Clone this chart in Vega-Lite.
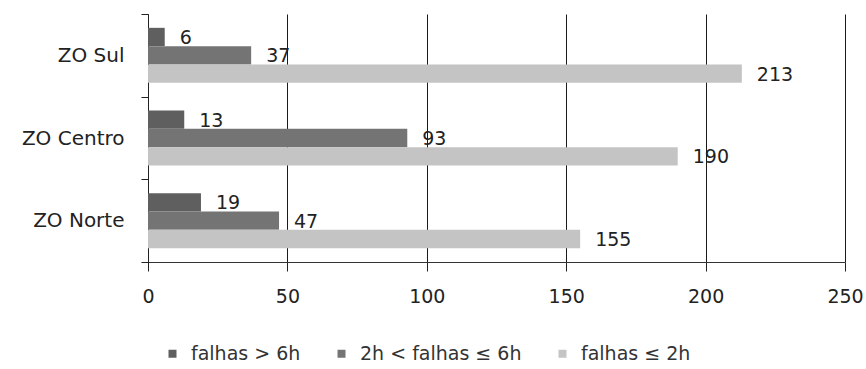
{
  "$schema": "https://vega.github.io/schema/vega-lite/v6.json",
  "autosize": "none",
  "width": 697,
  "height": 248,
  "padding": {"left": 148, "top": 14, "right": 21, "bottom": 107},
  "background": "white",
  "config": {
    "view": {"stroke": null},
    "font": "DejaVu Sans",
    "text": {"font": "DejaVu Sans"}
  },
  "data": {
    "values": [
      {"zona": "ZO Sul", "serie": "falhas > 6h", "valor": 6},
      {"zona": "ZO Sul", "serie": "2h < falhas ≤ 6h", "valor": 37},
      {"zona": "ZO Sul", "serie": "falhas ≤ 2h", "valor": 213},
      {"zona": "ZO Centro", "serie": "falhas > 6h", "valor": 13},
      {"zona": "ZO Centro", "serie": "2h < falhas ≤ 6h", "valor": 93},
      {"zona": "ZO Centro", "serie": "falhas ≤ 2h", "valor": 190},
      {"zona": "ZO Norte", "serie": "falhas > 6h", "valor": 19},
      {"zona": "ZO Norte", "serie": "2h < falhas ≤ 6h", "valor": 47},
      {"zona": "ZO Norte", "serie": "falhas ≤ 2h", "valor": 155}
    ]
  },
  "encoding": {
    "y": {
      "field": "zona",
      "type": "nominal",
      "sort": ["ZO Sul", "ZO Centro", "ZO Norte"],
      "scale": {"paddingInner": 0, "paddingOuter": 0},
      "axis": {
        "title": null,
        "tickBand": "extent",
        "tickSize": 7,
        "tickColor": "#222",
        "domainColor": "#222",
        "labelPadding": 17,
        "labelFontSize": 20,
        "labelColor": "#222",
        "labelFont": "DejaVu Sans",
        "grid": false
      }
    },
    "yOffset": {
      "field": "serie",
      "type": "nominal",
      "sort": ["falhas > 6h", "2h < falhas ≤ 6h", "falhas ≤ 2h"],
      "scale": {"paddingInner": 0, "paddingOuter": 0.755}
    },
    "x": {
      "field": "valor",
      "type": "quantitative",
      "scale": {"domain": [0, 250], "nice": false},
      "axis": {
        "title": null,
        "values": [0, 50, 100, 150, 200, 250],
        "grid": true,
        "gridColor": "#1a1a1a",
        "gridOpacity": 1,
        "gridWidth": 1,
        "tickSize": 9,
        "tickColor": "#222",
        "domainColor": "#333",
        "labelPadding": 16,
        "labelFlush": false,
        "labelFontSize": 19,
        "labelColor": "#222",
        "labelFont": "DejaVu Sans"
      }
    }
  },
  "layer": [
    {
      "mark": {"type": "bar"},
      "encoding": {
        "color": {
          "field": "serie",
          "type": "nominal",
          "sort": ["falhas > 6h", "2h < falhas ≤ 6h", "falhas ≤ 2h"],
          "scale": {
            "domain": ["falhas > 6h", "2h < falhas ≤ 6h", "falhas ≤ 2h"],
            "range": ["#5f5f5f", "#747474", "#c4c4c4"]
          },
          "legend": {
            "title": null,
            "orient": "none",
            "direction": "horizontal",
            "legendX": 15,
            "legendY": 330,
            "symbolType": "square",
            "symbolSize": 64,
            "symbolStrokeWidth": 0,
            "labelFontSize": 19,
            "labelLimit": 400,
            "labelColor": "#333",
            "labelFont": "DejaVu Sans",
            "labelOffset": 9,
            "columnPadding": 31
          }
        }
      }
    },
    {
      "mark": {
        "type": "text",
        "align": "left",
        "baseline": "middle",
        "dx": 15,
        "dy": 1,
        "fontSize": 19,
        "color": "#222",
        "font": "DejaVu Sans"
      },
      "encoding": {
        "text": {"field": "valor", "type": "quantitative"}
      }
    }
  ]
}
